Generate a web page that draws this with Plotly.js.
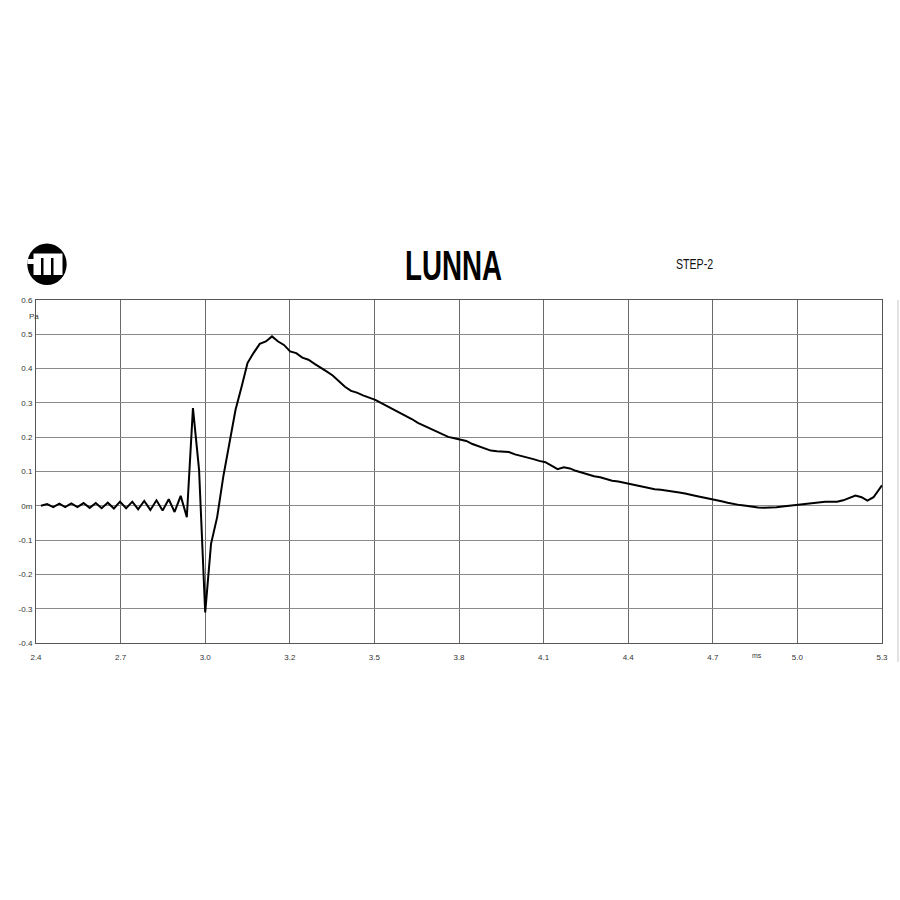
<!DOCTYPE html>
<html>
<head>
<meta charset="utf-8">
<script src="https://cdn.plot.ly/plotly-3.0.1.min.js"></script>
<style>
  html, body { margin: 0; padding: 0; background: #ffffff; }
  #chart { width: 900px; height: 900px; }
</style>
</head>
<body>
<div id="chart"></div>
<script>
// ---- data ----
const timeMs = [
  2.417, 2.438, 2.459, 2.480, 2.500, 2.521, 2.542, 2.563, 2.584, 2.605,
  2.625, 2.646, 2.667, 2.688, 2.709, 2.730, 2.750, 2.771, 2.792, 2.813,
  2.834, 2.855, 2.875, 2.896, 2.917, 2.938, 2.959, 2.980, 3.000, 3.021,
  3.042, 3.063, 3.084, 3.105, 3.125, 3.146, 3.167, 3.188, 3.209, 3.230,
  3.250, 3.271, 3.292, 3.313, 3.334, 3.355, 3.375, 3.396, 3.417, 3.438,
  3.459, 3.480, 3.500, 3.521, 3.542, 3.563, 3.584, 3.605, 3.625, 3.646,
  3.667, 3.688, 3.709, 3.730, 3.750, 3.771, 3.792, 3.813, 3.834, 3.855,
  3.875, 3.896, 3.917, 3.938, 3.959, 3.980, 4.000, 4.021, 4.042, 4.063,
  4.084, 4.105, 4.125, 4.146, 4.167, 4.188, 4.209, 4.230, 4.250, 4.271,
  4.292, 4.313, 4.334, 4.355, 4.375, 4.396, 4.417, 4.438, 4.459, 4.480,
  4.500, 4.521, 4.542, 4.563, 4.584, 4.605, 4.625, 4.646, 4.667, 4.688,
  4.709, 4.730, 4.750, 4.771, 4.792, 4.813, 4.834, 4.855, 4.875, 4.896,
  4.917, 4.938, 4.959, 4.980, 5.000, 5.021, 5.042, 5.063, 5.084, 5.105,
  5.125, 5.146, 5.167, 5.188, 5.209, 5.230, 5.250, 5.271, 5.300
];
const pressurePa = [
  0.000, 0.005, -0.004, 0.006, -0.004, 0.007, -0.004, 0.008, -0.006, 0.008,
  -0.007, 0.009, -0.008, 0.012, -0.007, 0.012, -0.010, 0.014, -0.012, 0.016,
  -0.014, 0.019, -0.018, 0.029, -0.033, 0.285, 0.105, -0.311, -0.111, -0.033,
  0.085, 0.187, 0.280, 0.348, 0.416, 0.446, 0.472, 0.479, 0.494, 0.479,
  0.469, 0.450, 0.445, 0.432, 0.426, 0.414, 0.404, 0.392, 0.380, 0.364,
  0.347, 0.335, 0.330, 0.322, 0.315, 0.309, 0.299, 0.290, 0.280, 0.271,
  0.262, 0.253, 0.242, 0.234, 0.226, 0.216, 0.208, 0.201, 0.197, 0.194,
  0.189, 0.180, 0.174, 0.167, 0.161, 0.159, 0.157, 0.157, 0.150, 0.146,
  0.141, 0.136, 0.131, 0.127, 0.117, 0.107, 0.112, 0.109, 0.102, 0.096,
  0.090, 0.086, 0.083, 0.078, 0.073, 0.071, 0.067, 0.064, 0.061, 0.056,
  0.052, 0.048, 0.047, 0.045, 0.042, 0.039, 0.036, 0.033, 0.028, 0.024,
  0.021, 0.018, 0.013, 0.009, 0.005, 0.002, 0.000, -0.003, -0.005, -0.006,
  -0.006, -0.004, -0.002, 0.000, 0.002, 0.005, 0.008, 0.010, 0.011, 0.012,
  0.012, 0.012, 0.016, 0.024, 0.030, 0.025, 0.015, 0.025, 0.060
];
const xTickVals = [2.4, 2.69, 2.98, 3.27, 3.56, 3.85, 4.14, 4.43, 4.72, 5.01, 5.3];
const xTickText = ['2.4', '2.7', '3.0', '3.2', '3.5', '3.8', '4.1', '4.4', '4.7', '5.0', '5.3'];
const yTickVals = [-0.4, -0.3, -0.2, -0.1, 0, 0.1, 0.2, 0.3, 0.4, 0.5, 0.6];
const yTickText = ['-0.4', '-0.3', '-0.2', '-0.1', '0m', '0.1', '0.2', '0.3', '0.4', '0.5', '0.6'];
const chartTitle = 'LUNNA';
const subTitle = 'STEP-2';
const yUnit = 'Pa';
const xUnit = 'ms';

// ---- layout helpers (pixel -> paper) ----
const L = 36, R = 882, T = 300, B = 643;
const px = v => (v - L) / (R - L);
const py = v => (B - v) / (B - T);

const tickFont = { family: 'Liberation Sans, Arial, sans-serif', size: 8, color: '#333' };

const trace = {
  x: timeMs,
  y: pressurePa,
  type: 'scatter',
  mode: 'lines',
  line: { color: '#000000', width: 2 },
  hoverinfo: 'skip'
};

const layout = {
  width: 900,
  height: 900,
  paper_bgcolor: '#ffffff',
  plot_bgcolor: '#ffffff',
  showlegend: false,
  margin: { l: L, r: 900 - R, t: T, b: 900 - B, pad: 0 },
  xaxis: {
    range: [2.4, 5.3],
    tickmode: 'array',
    tickvals: xTickVals,
    ticktext: xTickText,
    tickfont: tickFont,
    ticks: '',
    ticklabelstandoff: 6,
    showgrid: true,
    gridcolor: '#6a6a6a',
    gridwidth: 1,
    zeroline: false,
    showline: true,
    linecolor: '#555',
    linewidth: 1,
    mirror: true,
    fixedrange: true
  },
  yaxis: {
    range: [-0.4, 0.6],
    tickmode: 'array',
    tickvals: yTickVals,
    ticktext: yTickText,
    tickfont: tickFont,
    ticks: '',
    ticklabelstandoff: 1,
    showgrid: true,
    gridcolor: '#8a8a8a',
    gridwidth: 1,
    zeroline: false,
    showline: true,
    linecolor: '#555',
    linewidth: 1,
    mirror: true,
    fixedrange: true
  },
  annotations: [
    { text: chartTitle, xref: 'paper', yref: 'paper', x: px(453), y: py(265),
      xanchor: 'center', yanchor: 'middle', showarrow: false,
      font: { family: 'Liberation Sans, Arial, sans-serif', size: 42, weight: 700, color: '#000' } },
    { text: subTitle, xref: 'paper', yref: 'paper', x: px(694), y: py(264),
      xanchor: 'center', yanchor: 'middle', showarrow: false,
      font: { family: 'Liberation Sans, Arial, sans-serif', size: 14, color: '#111' } },
    { text: yUnit, xref: 'paper', yref: 'paper', x: px(27), y: py(316),
      xanchor: 'left', yanchor: 'middle', showarrow: false,
      font: { family: 'Liberation Sans, Arial, sans-serif', size: 8, color: '#333' } },
    { text: xUnit, xref: 'paper', yref: 'paper', x: px(757), y: py(655),
      xanchor: 'center', yanchor: 'middle', showarrow: false,
      font: { family: 'Liberation Sans, Arial, sans-serif', size: 7, color: '#333' } }
  ],
  shapes: [
    // logo: black disc with a white stylised "m"
    { type: 'circle', xref: 'paper', yref: 'paper', x0: px(27.3), x1: px(66.7), y0: py(285), y1: py(243.5),
      fillcolor: '#000', line: { width: 0 } },
    { type: 'rect', xref: 'paper', yref: 'paper', x0: px(33.5), x1: px(62.5), y0: py(275), y1: py(253.5),
      fillcolor: '#fff', line: { width: 0 } },
    { type: 'rect', xref: 'paper', yref: 'paper', x0: px(27.5), x1: px(34), y0: py(264), y1: py(259),
      fillcolor: '#fff', line: { width: 0 } },
    { type: 'rect', xref: 'paper', yref: 'paper', x0: px(41), x1: px(43.5), y0: py(275), y1: py(258),
      fillcolor: '#000', line: { width: 0 } },
    { type: 'rect', xref: 'paper', yref: 'paper', x0: px(51), x1: px(53.5), y0: py(275), y1: py(258),
      fillcolor: '#000', line: { width: 0 } },
    // faint right-edge line of the original image
    { type: 'line', xref: 'paper', yref: 'paper', x0: px(898), x1: px(898), y0: py(300), y1: py(662),
      line: { color: '#e2e2e2', width: 2 } }
  ]
};

// horizontal compression of the title texts, to look like the condensed face of the original
const squeeze = [0.66, 0.76];

Plotly.newPlot('chart', [trace], layout, { staticPlot: true, displayModeBar: false }).then(gd => {
  const texts = gd.querySelectorAll('.annotation-text');
  texts.forEach((t, i) => {
    const s = squeeze[i];
    if (!s) return;
    t.style.transformBox = 'fill-box';
    t.style.transformOrigin = 'center';
    t.style.transform = 'scaleX(' + s + ')';
  });
});
</script>
</body>
</html>
